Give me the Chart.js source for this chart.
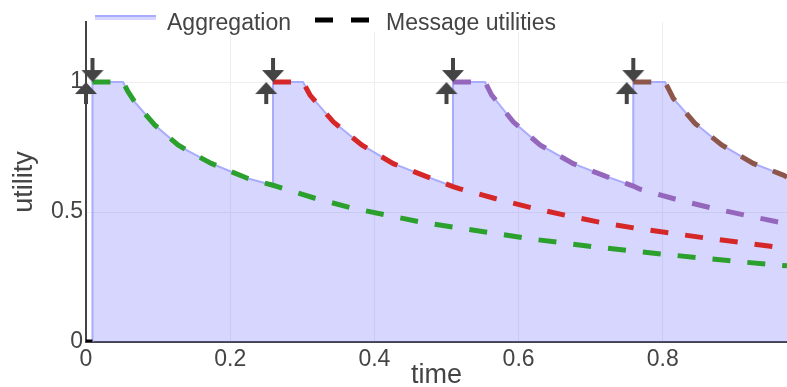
<!DOCTYPE html>
<html>
<head>
<meta charset="utf-8">
<script src="https://cdn.jsdelivr.net/npm/chart.js@4.4.1/dist/chart.umd.min.js"></script>
<style>
  body { margin: 0; background: #fff; }
  canvas { display: block; }
</style>
</head>
<body>
<canvas id="myChart" width="787" height="387"></canvas>
<script>
// message utilities (time, utility)
const greenT = [0.009, 0.0513, 0.0583, 0.0675, 0.0953, 0.1276, 0.1415, 0.1738, 0.2015, 0.2247, 0.2594, 0.3176, 0.3662, 0.4171, 0.4632, 0.5132, 0.5627, 0.6126, 0.662, 0.7115, 0.7614, 0.811, 0.8609, 0.9103, 0.9602, 0.9723];
const greenU = [1, 1, 0.963, 0.924, 0.835, 0.758, 0.735, 0.687, 0.655, 0.629, 0.603, 0.553, 0.517, 0.488, 0.462, 0.44, 0.42, 0.398, 0.381, 0.364, 0.349, 0.335, 0.321, 0.308, 0.296, 0.293];

const redT = [0.2594, 0.301, 0.3107, 0.343, 0.3824, 0.4262, 0.4725, 0.509, 0.5187, 0.5673, 0.6158, 0.6644, 0.7139, 0.7638, 0.8132, 0.8623, 0.9116, 0.9602, 0.9723];
const redU = [1, 1, 0.95, 0.847, 0.758, 0.686, 0.636, 0.598, 0.589, 0.552, 0.518, 0.488, 0.46, 0.437, 0.418, 0.399, 0.382, 0.364, 0.36];

const purpleT = [0.509, 0.5534, 0.5627, 0.5926, 0.6297, 0.6759, 0.7222, 0.7591, 0.7684, 0.8169, 0.8655, 0.914, 0.9626, 0.9723];
const purpleU = [1, 1, 0.95, 0.847, 0.758, 0.686, 0.636, 0.6, 0.588, 0.55, 0.517, 0.488, 0.46, 0.456];

const brownT = [0.7591, 0.8031, 0.8146, 0.8447, 0.8817, 0.9255, 0.9671, 0.9723];
const brownU = [1, 1, 0.937, 0.841, 0.758, 0.687, 0.642, 0.635];

// arrow markers: sent (up) and received (down), both at utility 1
const sentT = [0, 0.25, 0.5, 0.75];
const receivedT = [0.009, 0.2594, 0.509, 0.7591];
const markerU = 1;

// black legend-group line sitting at the origin
const legendLineT = [0, 0.009];
const legendLineU = [0, 0];

const xTicks = [0, 0.2, 0.4, 0.6, 0.8];
const yTicks = [0, 0.5, 1];

const seriesColors = ['#2ca02c', '#d62728', '#9467bd', '#8c564b'];
const aggLine = '#a9abfb';
const aggFill = 'rgba(90,90,250,0.25)';
const textColor = '#444';
const fontFamily = '"Liberation Sans", Arial, sans-serif';

const messages = [[greenT, greenU], [redT, redU], [purpleT, purpleU], [brownT, brownU]];

function toPoints(t, u) {
    return t.map(function (x, i) { return { x: x, y: u[i] }; });
}

// aggregation = latest received message, filled down to zero
const aggregation = [{ x: greenT[0], y: 0 }];
messages.forEach(function (m, i) {
    const next = i + 1 < messages.length ? messages[i + 1][0][0] : Infinity;
    m[0].forEach(function (x, j) {
        if (x <= next) aggregation.push({ x: x, y: m[1][j] });
    });
});

function arrowCanvas(up) {
    const c = document.createElement('canvas');
    c.width = 24; c.height = 48;
    const g = c.getContext('2d');
    g.fillStyle = textColor;
    g.beginPath();
    if (up) {
        g.moveTo(12, 24); g.lineTo(23, 36); g.lineTo(1, 36);
        g.closePath(); g.fill();
        g.fillRect(10, 35, 4, 11);
    } else {
        g.fillRect(10, 0, 4, 13);
        g.moveTo(1, 12); g.lineTo(23, 12); g.lineTo(12, 24);
        g.closePath(); g.fill();
    }
    return c;
}

const datasets = [
    {
        label: 'received', data: receivedT.map(function (x) { return { x: x, y: markerU }; }),
        showLine: false, pointStyle: arrowCanvas(false), pointRadius: 12, clip: false, order: 0
    },
    {
        label: 'sent', data: sentT.map(function (x) { return { x: x, y: markerU }; }),
        showLine: false, pointStyle: arrowCanvas(true), pointRadius: 12, clip: false, order: 0
    }
];
messages.forEach(function (m, i) {
    datasets.push({
        label: 'message ' + (i + 1), data: toPoints(m[0], m[1]),
        borderColor: seriesColors[i], borderWidth: 5, borderDash: [18, 17],
        borderCapStyle: 'butt', pointRadius: 0, fill: false, order: 1
    });
});
datasets.push({
    label: 'Message utilities', data: toPoints(legendLineT, legendLineU),
    borderColor: '#000', borderWidth: 5, borderDash: [18, 17], pointRadius: 0,
    fill: false, order: 1, clip: { left: 2, top: 0, right: 0, bottom: 0 }
});
datasets.push({
    label: 'Aggregation', data: aggregation,
    borderColor: aggLine, backgroundColor: aggFill, borderWidth: 2,
    pointRadius: 0, fill: 'origin', order: 2
});

// plotly-like legend drawn over the top of the plot
const topLegend = {
    id: 'topLegend',
    afterDraw: function (chart) {
        const ctx = chart.ctx;
        ctx.save();
        ctx.fillStyle = '#fff';
        ctx.fillRect(90, 4, 486, 28);

        ctx.fillStyle = '#fff';
        ctx.fillRect(95, 16, 61, 4);
        ctx.fillStyle = aggFill;
        ctx.fillRect(95, 16, 61, 4);
        ctx.strokeStyle = aggLine;
        ctx.lineWidth = 2;
        ctx.beginPath(); ctx.moveTo(95, 16); ctx.lineTo(156, 16); ctx.stroke();

        ctx.strokeStyle = '#000';
        ctx.lineWidth = 5;
        ctx.setLineDash([18, 18]);
        ctx.beginPath(); ctx.moveTo(315, 20); ctx.lineTo(369, 20); ctx.stroke();
        ctx.setLineDash([]);

        ctx.fillStyle = textColor;
        ctx.font = '23px ' + fontFamily;
        ctx.textBaseline = 'alphabetic';
        ctx.fillText('Aggregation', 167, 30);
        ctx.fillText('Message utilities', 386, 30);
        ctx.restore();
    }
};

new Chart(document.getElementById('myChart'), {
    type: 'line',
    data: { datasets: datasets },
    options: {
        responsive: false,
        animation: false,
        events: [],
        layout: { autoPadding: false, padding: { left: 0, right: 0, top: 22, bottom: 0 } },
        plugins: { legend: { display: false }, tooltip: { enabled: false } },
        scales: {
            x: {
                type: 'linear', min: 0, max: 0.9723,
                afterBuildTicks: function (s) { s.ticks = xTicks.map(function (v) { return { value: v }; }); },
                afterFit: function (s) { s.height = 45; s.paddingLeft = 0; s.paddingRight = 0; },
                grid: { color: '#eee', drawTicks: false },
                border: { color: textColor, width: 2 },
                ticks: {
                    color: textColor, padding: 4, maxRotation: 0, autoSkip: false,
                    font: { family: fontFamily, size: 23 },
                    callback: function (v) { return String(v); }
                },
                title: {
                    display: true, text: 'time', color: textColor,
                    font: { family: fontFamily, size: 27, lineHeight: 0.85 },
                    padding: { top: 0, bottom: 0 }
                }
            },
            y: {
                type: 'linear', min: 0, max: 1.231,
                afterBuildTicks: function (s) { s.ticks = yTicks.map(function (v) { return { value: v }; }); },
                afterFit: function (s) { s.width = 86; s.paddingTop = 0; s.paddingBottom = 0; },
                grid: { color: '#eee', drawTicks: false },
                border: { color: textColor, width: 2 },
                ticks: {
                    color: textColor, padding: 3, autoSkip: false,
                    font: { family: fontFamily, size: 23 },
                    callback: function (v) { return String(v); }
                },
                title: {
                    display: true, text: 'utility', color: textColor,
                    font: { family: fontFamily, size: 27, lineHeight: 1 },
                    padding: { top: 11, bottom: 0 }
                }
            }
        }
    },
    plugins: [topLegend]
});
</script>
</body>
</html>
